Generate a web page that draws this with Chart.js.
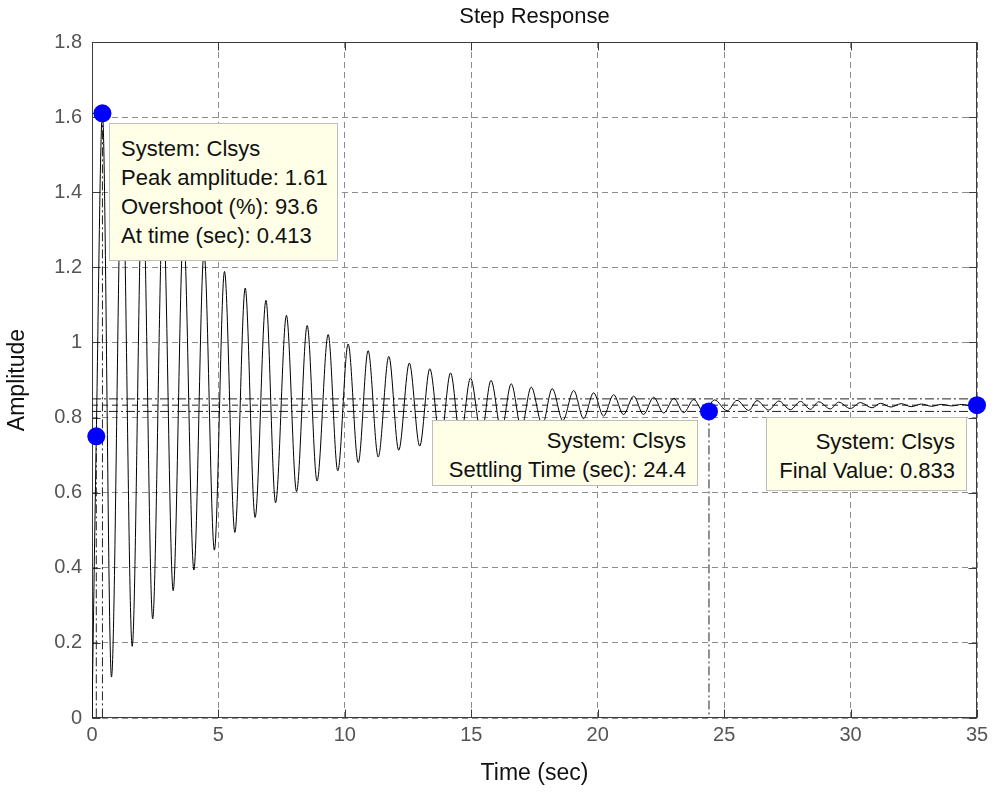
<!DOCTYPE html>
<html>
<head>
<meta charset="utf-8">
<script src="https://cdn.jsdelivr.net/npm/chart.js@4.4.1/dist/chart.umd.min.js"></script>
<style>
  html, body { margin: 0; padding: 0; background: #fff; }
  #wrap { position: relative; width: 997px; height: 793px; }
  .tip {
    position: absolute;
    box-sizing: border-box;
    background: #ffffe8;
    border: 1px solid #bdbdbd;
    font-family: "Liberation Sans", Arial, Helvetica, sans-serif;
    font-size: 22px;
    line-height: 29px;
    color: #111;
    white-space: nowrap;
    padding: 0 11px;
  }
  .tip.right { text-align: right; }
</style>
</head>
<body>
<div id="wrap">
  <canvas id="chart" width="997" height="793"></canvas>
  <div class="tip" id="tipPeak" style="left:109px; top:123px; width:229px; height:138px; padding-top:10px;"></div>
  <div class="tip right" id="tipSettle" style="left:432px; top:420px; width:266px; height:66px; padding-top:5px;"></div>
  <div class="tip right" id="tipFinal" style="left:766px; top:417px; width:201px; height:74px; padding-top:9px;"></div>
</div>
<script>
// step response: peaks and troughs (time in sec)
const respTime = [0, 0.17, 0.413, 0.77, 1.19, 1.59, 2.00, 2.40, 2.81, 3.21, 3.62, 4.03, 4.43, 4.84, 5.24, 5.65,
  6.06, 6.45, 6.88, 7.26, 7.69, 8.09, 8.51, 8.90, 9.34, 9.72, 10.13, 10.53, 10.92, 11.32, 11.74, 12.13, 12.55,
  12.96, 13.36, 13.78, 14.18, 14.57, 14.97, 15.40, 15.78, 16.19, 16.58, 16.98, 17.37, 17.81, 18.20, 18.62,
  19.05, 19.44, 19.84, 20.23, 20.63, 21.02, 21.42, 21.81, 22.21, 22.61, 23.01, 23.40, 23.80, 24.20, 24.62,
  25.12, 25.51, 25.97, 26.30, 26.76, 27.16, 27.62, 28.02, 28.41, 28.74, 29.20, 29.53, 29.99, 30.39, 30.85,
  31.18, 31.6, 32.0, 32.4, 32.8, 33.2, 33.6, 34.0, 34.4, 34.8, 35.0];
const respAmp = [0, 0.75, 1.61, 0.109, 1.51, 0.191, 1.44, 0.264, 1.36, 0.339, 1.30, 0.394, 1.24, 0.447, 1.189, 0.494,
  1.145, 0.534, 1.112, 0.573, 1.072, 0.603, 1.045, 0.631, 1.021, 0.658, 0.996, 0.680, 0.978, 0.695, 0.963, 0.713, 0.945,
  0.724, 0.930, 0.735, 0.919, 0.745, 0.905, 0.755, 0.899, 0.765, 0.890, 0.772, 0.881, 0.780, 0.877, 0.792,
  0.872, 0.797, 0.866, 0.804, 0.861, 0.808, 0.857, 0.808, 0.854, 0.812, 0.851, 0.813, 0.848, 0.813, 0.847,
  0.818, 0.846, 0.819, 0.845, 0.820, 0.844, 0.821, 0.843, 0.822, 0.842, 0.823, 0.841, 0.824, 0.840, 0.826,
  0.838, 0.828, 0.837, 0.829, 0.836, 0.830, 0.835, 0.831, 0.835, 0.831, 0.833];

// characteristic markers: rise time, peak, settling time, final value
const markerTime = [0.17, 0.413, 24.4, 35];
const markerAmp = [0.75, 1.61, 0.8163, 0.833];
// settling band (upper, lower) and final value
const bandAmp = [0.8497, 0.8163];
const finalAmp = 0.833;

const xTicks = [0, 5, 10, 15, 20, 25, 30, 35];
const xTickLabels = ['0', '5', '10', '15', '20', '25', '30', '35'];
const yTicks = [0, 0.2, 0.4, 0.6, 0.8, 1, 1.2, 1.4, 1.6, 1.8];
const yTickLabels = ['0', '0.2', '0.4', '0.6', '0.8', '1', '1.2', '1.4', '1.6', '1.8'];

const chartTitle = 'Step Response';
const tipPeakLines = ['System: Clsys', 'Peak amplitude: 1.61', 'Overshoot (%): 93.6', 'At time (sec): 0.413'];
const tipSettleLines = ['System: Clsys', 'Settling Time (sec): 24.4'];
const tipFinalLines = ['System: Clsys', 'Final Value: 0.833'];

document.getElementById('tipPeak').innerHTML = tipPeakLines.join('<br>');
document.getElementById('tipSettle').innerHTML = tipSettleLines.join('<br>');
document.getElementById('tipFinal').innerHTML = tipFinalLines.join('<br>');

const fontFamily = '"Liberation Sans", Arial, Helvetica, sans-serif';
Chart.defaults.font.family = fontFamily;

const dashDot = [9, 3, 2, 3];
function seg(x1, y1, x2, y2, dash) {
    return {
        data: [{x: x1, y: y1}, {x: x2, y: y2}],
        showLine: true,
        borderColor: '#222',
        borderWidth: 1,
        borderDash: dash,
        pointRadius: 0,
        order: 2
    };
}

// frame, inside tick marks and title centred over the axes, like matlab
const framePlugin = {
    id: 'frame',
    beforeDatasetsDraw(chart) {
        const {ctx, chartArea: a, scales} = chart;
        ctx.save();
        ctx.strokeStyle = '#3c3c3c';
        ctx.lineWidth = 1;
        ctx.setLineDash([]);
        const L = Math.round(a.left) + 0.5, R = Math.round(a.right) - 0.5;
        const T = Math.round(a.top) + 0.5, B = Math.round(a.bottom) - 0.5;
        ctx.strokeRect(L, T, R - L, B - T);
        ctx.beginPath();
        xTicks.forEach(v => {
            const px = Math.round(scales.x.getPixelForValue(v)) + 0.5;
            ctx.moveTo(px, B); ctx.lineTo(px, B - 8);
            ctx.moveTo(px, T); ctx.lineTo(px, T + 8);
        });
        yTicks.forEach(v => {
            const py = Math.round(scales.y.getPixelForValue(v)) + 0.5;
            ctx.moveTo(L, py); ctx.lineTo(L + 8, py);
            ctx.moveTo(R, py); ctx.lineTo(R - 8, py);
        });
        ctx.stroke();
        ctx.fillStyle = '#111';
        ctx.font = '22px ' + fontFamily;
        ctx.textAlign = 'center';
        ctx.textBaseline = 'middle';
        ctx.fillText(chartTitle, (a.left + a.right) / 2, 17);
        ctx.restore();
    }
};

const ctx = document.getElementById('chart').getContext('2d');
new Chart(ctx, {
    type: 'scatter',
    data: {
        datasets: [{
            data: markerTime.map((t, i) => ({x: t, y: markerAmp[i]})),
            pointRadius: 9,
            pointBackgroundColor: '#0000ff',
            pointBorderWidth: 0,
            clip: false,
            order: 0
        }, {
            data: respTime.map((t, i) => ({x: t, y: respAmp[i]})),
            showLine: true,
            borderColor: '#000',
            borderWidth: 1,
            pointRadius: 0,
            cubicInterpolationMode: 'monotone',
            order: 1
        },
            seg(0, bandAmp[0], 35, bandAmp[0], dashDot),
            seg(0, bandAmp[1], 35, bandAmp[1], dashDot),
            seg(0, finalAmp, 35, finalAmp, [6, 4]),
            seg(markerTime[2], markerAmp[2], markerTime[2], 0, dashDot),
            seg(markerTime[1], markerAmp[1], markerTime[1], 0, dashDot),
            seg(0, markerAmp[1], markerTime[1], markerAmp[1], dashDot),
            seg(markerTime[0], markerAmp[0], markerTime[0], 0, dashDot),
            seg(0, markerAmp[0], markerTime[0], markerAmp[0], dashDot)
        ]
    },
    options: {
        responsive: false,
        animation: false,
        devicePixelRatio: 1,
        layout: {padding: {left: 0, right: 20, top: 42, bottom: 0}},
        plugins: {
            legend: {display: false},
            tooltip: {enabled: false},
            title: {display: false}
        },
        scales: {
            x: {
                type: 'linear',
                min: 0,
                max: 35,
                afterBuildTicks: s => { s.ticks = xTicks.map(v => ({value: v})); },
                afterFit: s => { s.height = 75; },
                ticks: {
                    callback: (v, i) => xTickLabels[i],
                    color: '#555',
                    font: {size: 20},
                    padding: 5,
                    maxRotation: 0
                },
                grid: {color: '#8c8c8c', lineWidth: 1, drawTicks: false},
                border: {display: false, dash: [6, 4]},
                title: {
                    display: true,
                    text: 'Time (sec)',
                    color: '#111',
                    font: {size: 23},
                    padding: {top: 0, bottom: 6}
                }
            },
            y: {
                type: 'linear',
                min: 0,
                max: 1.8,
                afterBuildTicks: s => { s.ticks = yTicks.map(v => ({value: v})); },
                afterFit: s => { s.width = 92; },
                ticks: {
                    callback: (v, i) => yTickLabels[i],
                    color: '#555',
                    font: {size: 20},
                    padding: 10
                },
                grid: {color: '#8c8c8c', lineWidth: 1, drawTicks: false},
                border: {display: false, dash: [6, 4]},
                title: {
                    display: true,
                    text: 'Amplitude',
                    color: '#111',
                    font: {size: 23},
                    padding: {top: 4, bottom: 0}
                }
            }
        }
    },
    plugins: [framePlugin]
});
</script>
</body>
</html>
